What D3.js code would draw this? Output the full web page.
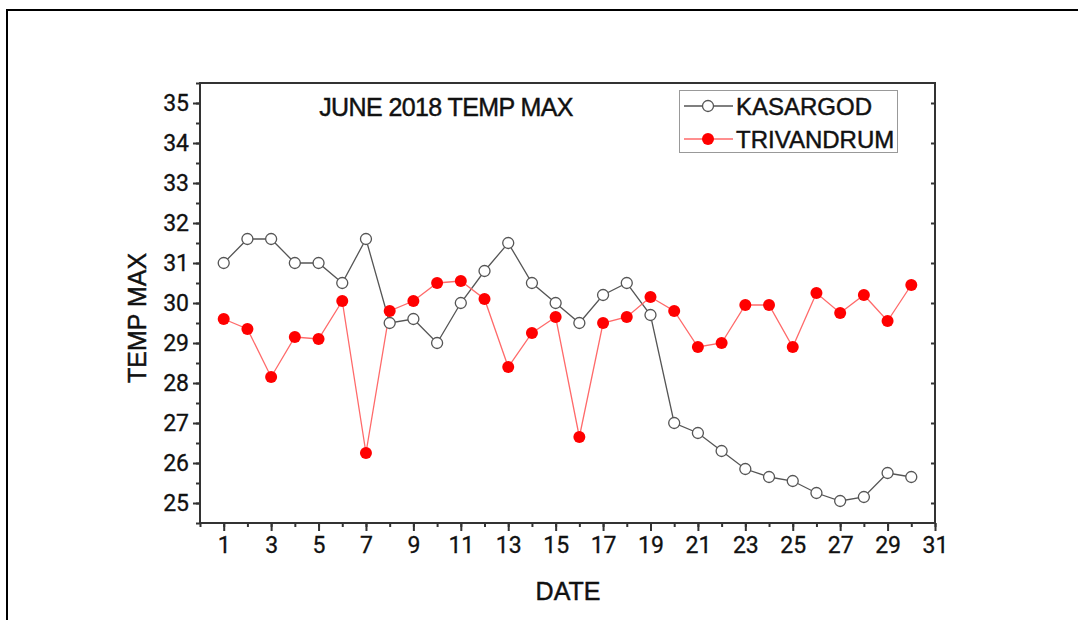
<!DOCTYPE html>
<html>
<head>
<meta charset="utf-8">
<script src="https://cdn.jsdelivr.net/npm/d3@7"></script>
<style>
  html, body { margin: 0; padding: 0; background: #fff; }
  svg { display: block; }
</style>
</head>
<body>
<svg id="chart" width="1078" height="620"></svg>
<script>
// Daily maximum temperature, June 2018
const days = [1, 2, 3, 4, 5, 6, 7, 8, 9, 10, 11, 12, 13, 14, 15,
              16, 17, 18, 19, 20, 21, 22, 23, 24, 25, 26, 27, 28, 29, 30];
const kasargod = [31.0, 31.6, 31.6, 31.0, 31.0, 30.5, 31.6, 29.5, 29.6, 29.0,
                  30.0, 30.8, 31.5, 30.5, 30.0, 29.5, 30.2, 30.5, 29.7, 27.0,
                  26.75, 26.3, 25.85, 25.65, 25.55, 25.25, 25.05, 25.15, 25.75, 25.65];
const trivandrum = [29.6, 29.35, 28.15, 29.15, 29.1, 30.05, 26.25, 29.8, 30.05, 30.5,
                    30.55, 30.1, 28.4, 29.25, 29.65, 26.65, 29.5, 29.65, 30.15, 29.8,
                    28.9, 29.0, 29.95, 29.95, 28.9, 30.25, 29.75, 30.2, 29.55, 30.45];
const xTickLabels = [1, 3, 5, 7, 9, 11, 13, 15, 17, 19, 21, 23, 25, 27, 29, 31];
const yTickLabels = [25, 26, 27, 28, 29, 30, 31, 32, 33, 34, 35];
const seriesNames = ["KASARGOD", "TRIVANDRUM"];
const titleText = "JUNE 2018 TEMP MAX";

const svg = d3.select("#chart");
const plot = { left: 200, right: 935, top: 83, bottom: 523 };

const x = d3.scaleLinear().domain([0, 31]).range([plot.left, plot.right]);
const y = d3.scaleLinear().domain([24.5, 35.5]).range([plot.bottom, plot.top]);

const axisColor = "#333";
const labelFont = "Roboto, 'Liberation Sans', Arial, sans-serif";
const textFont = "'Liberation Sans', Arial, sans-serif";

// slightly heavier text strokes
const heavy = sel => sel.attr("stroke", "#111").attr("stroke-width", 0.45);

// outer frame
svg.append("rect")
  .attr("x", 7).attr("y", 10)
  .attr("width", 1200).attr("height", 800)
  .attr("fill", "none").attr("stroke", "#000").attr("stroke-width", 2);

// minor ticks (no labels)
const minorX = d3.range(0, 32);
const minorY = d3.range(24.5, 35.51, 0.5);

svg.append("g")
  .attr("transform", `translate(0,${plot.bottom})`)
  .call(d3.axisBottom(x).tickValues(minorX).tickSize(4).tickFormat(""))
  .call(g => g.select(".domain").remove())
  .call(g => g.selectAll("line").attr("stroke", axisColor).attr("stroke-width", 2));

svg.append("g")
  .attr("transform", `translate(${plot.left},0)`)
  .call(d3.axisLeft(y).tickValues(minorY).tickSize(4).tickFormat(""))
  .call(g => g.select(".domain").remove())
  .call(g => g.selectAll("line").attr("stroke", axisColor).attr("stroke-width", 2));

// major ticks with labels
const xAxis = svg.append("g")
  .attr("transform", `translate(0,${plot.bottom})`)
  .call(d3.axisBottom(x).tickValues(xTickLabels).tickSize(8).tickPadding(6).tickFormat(d3.format("d")));
xAxis.select(".domain").remove();
xAxis.selectAll("line").attr("stroke", axisColor).attr("stroke-width", 2);
xAxis.selectAll("text").attr("fill", "#111").style("font-family", labelFont).style("font-size", "23px")
  .call(heavy).attr("stroke-width", 0.3);

const yAxis = svg.append("g")
  .attr("transform", `translate(${plot.left},0)`)
  .call(d3.axisLeft(y).tickValues(yTickLabels).tickSize(7).tickPadding(4).tickFormat(d3.format("d")));
yAxis.select(".domain").remove();
yAxis.selectAll("line").attr("stroke", axisColor).attr("stroke-width", 2);
yAxis.selectAll("text").attr("fill", "#111").style("font-family", labelFont).style("font-size", "23px")
  .call(heavy).attr("stroke-width", 0.3);

// right-hand axis ticks pointing inward
const rAxis = svg.append("g")
  .attr("transform", `translate(${plot.right},0)`)
  .call(d3.axisLeft(y).tickValues(yTickLabels).tickSize(4).tickFormat(""));
rAxis.select(".domain").remove();
rAxis.selectAll("line").attr("stroke", axisColor).attr("stroke-width", 2);

// plot frame
svg.append("rect")
  .attr("x", plot.left).attr("y", plot.top)
  .attr("width", plot.right - plot.left).attr("height", plot.bottom - plot.top)
  .attr("fill", "none").attr("stroke", axisColor).attr("stroke-width", 2);

// series lines
const line = vals => d3.line().x((d, i) => x(days[i])).y(d => y(d))(vals);

svg.append("path")
  .attr("d", line(kasargod))
  .attr("fill", "none").attr("stroke", "#555").attr("stroke-width", 1.3);

svg.append("path")
  .attr("d", line(trivandrum))
  .attr("fill", "none").attr("stroke", "#ff6a6a").attr("stroke-width", 1.3);

// markers
svg.append("g").selectAll("circle")
  .data(kasargod).join("circle")
  .attr("cx", (d, i) => x(days[i])).attr("cy", d => y(d))
  .attr("r", 5.5).attr("fill", "#fff").attr("stroke", "#555").attr("stroke-width", 1.3);

svg.append("g").selectAll("circle")
  .data(trivandrum).join("circle")
  .attr("cx", (d, i) => x(days[i])).attr("cy", d => y(d))
  .attr("r", 6).attr("fill", "#ff0000");

// title
svg.append("text")
  .attr("x", 446).attr("y", 116)
  .attr("text-anchor", "middle")
  .style("font-family", textFont).style("font-size", "25px")
  .style("letter-spacing", "-0.6px")
  .attr("fill", "#111")
  .call(heavy)
  .text(titleText);

// axis titles
svg.append("text")
  .attr("x", 568).attr("y", 600)
  .attr("text-anchor", "middle")
  .style("font-family", textFont).style("font-size", "25px")
  .attr("fill", "#111")
  .call(heavy)
  .text("DATE");

svg.append("text")
  .attr("transform", "translate(146,318) rotate(-90)")
  .attr("text-anchor", "middle")
  .style("font-family", textFont).style("font-size", "25px")
  .attr("fill", "#111")
  .call(heavy)
  .text("TEMP MAX");

// legend
const legend = svg.append("g");
legend.append("rect")
  .attr("x", 679.5).attr("y", 90.5).attr("width", 218).attr("height", 62)
  .attr("fill", "#fff").attr("stroke", "#999").attr("stroke-width", 1);

const legendRows = [
  { name: seriesNames[0], cy: 106, stroke: "#555", fill: "#fff" },
  { name: seriesNames[1], cy: 139, stroke: "#ff6a6a", fill: "#ff0000" }
];
legendRows.forEach((r, k) => {
  legend.append("line")
    .attr("x1", 684).attr("x2", 733).attr("y1", r.cy).attr("y2", r.cy)
    .attr("stroke", r.stroke).attr("stroke-width", 1.3);
  legend.append("circle")
    .attr("cx", 708).attr("cy", r.cy).attr("r", k === 0 ? 5.5 : 6)
    .attr("fill", r.fill)
    .attr("stroke", k === 0 ? "#555" : "none").attr("stroke-width", 1.3);
  legend.append("text")
    .attr("x", 736).attr("y", r.cy + 9)
    .style("font-family", textFont).style("font-size", "24px")
    .attr("fill", "#111")
    .call(heavy)
    .text(r.name);
});
</script>
</body>
</html>
